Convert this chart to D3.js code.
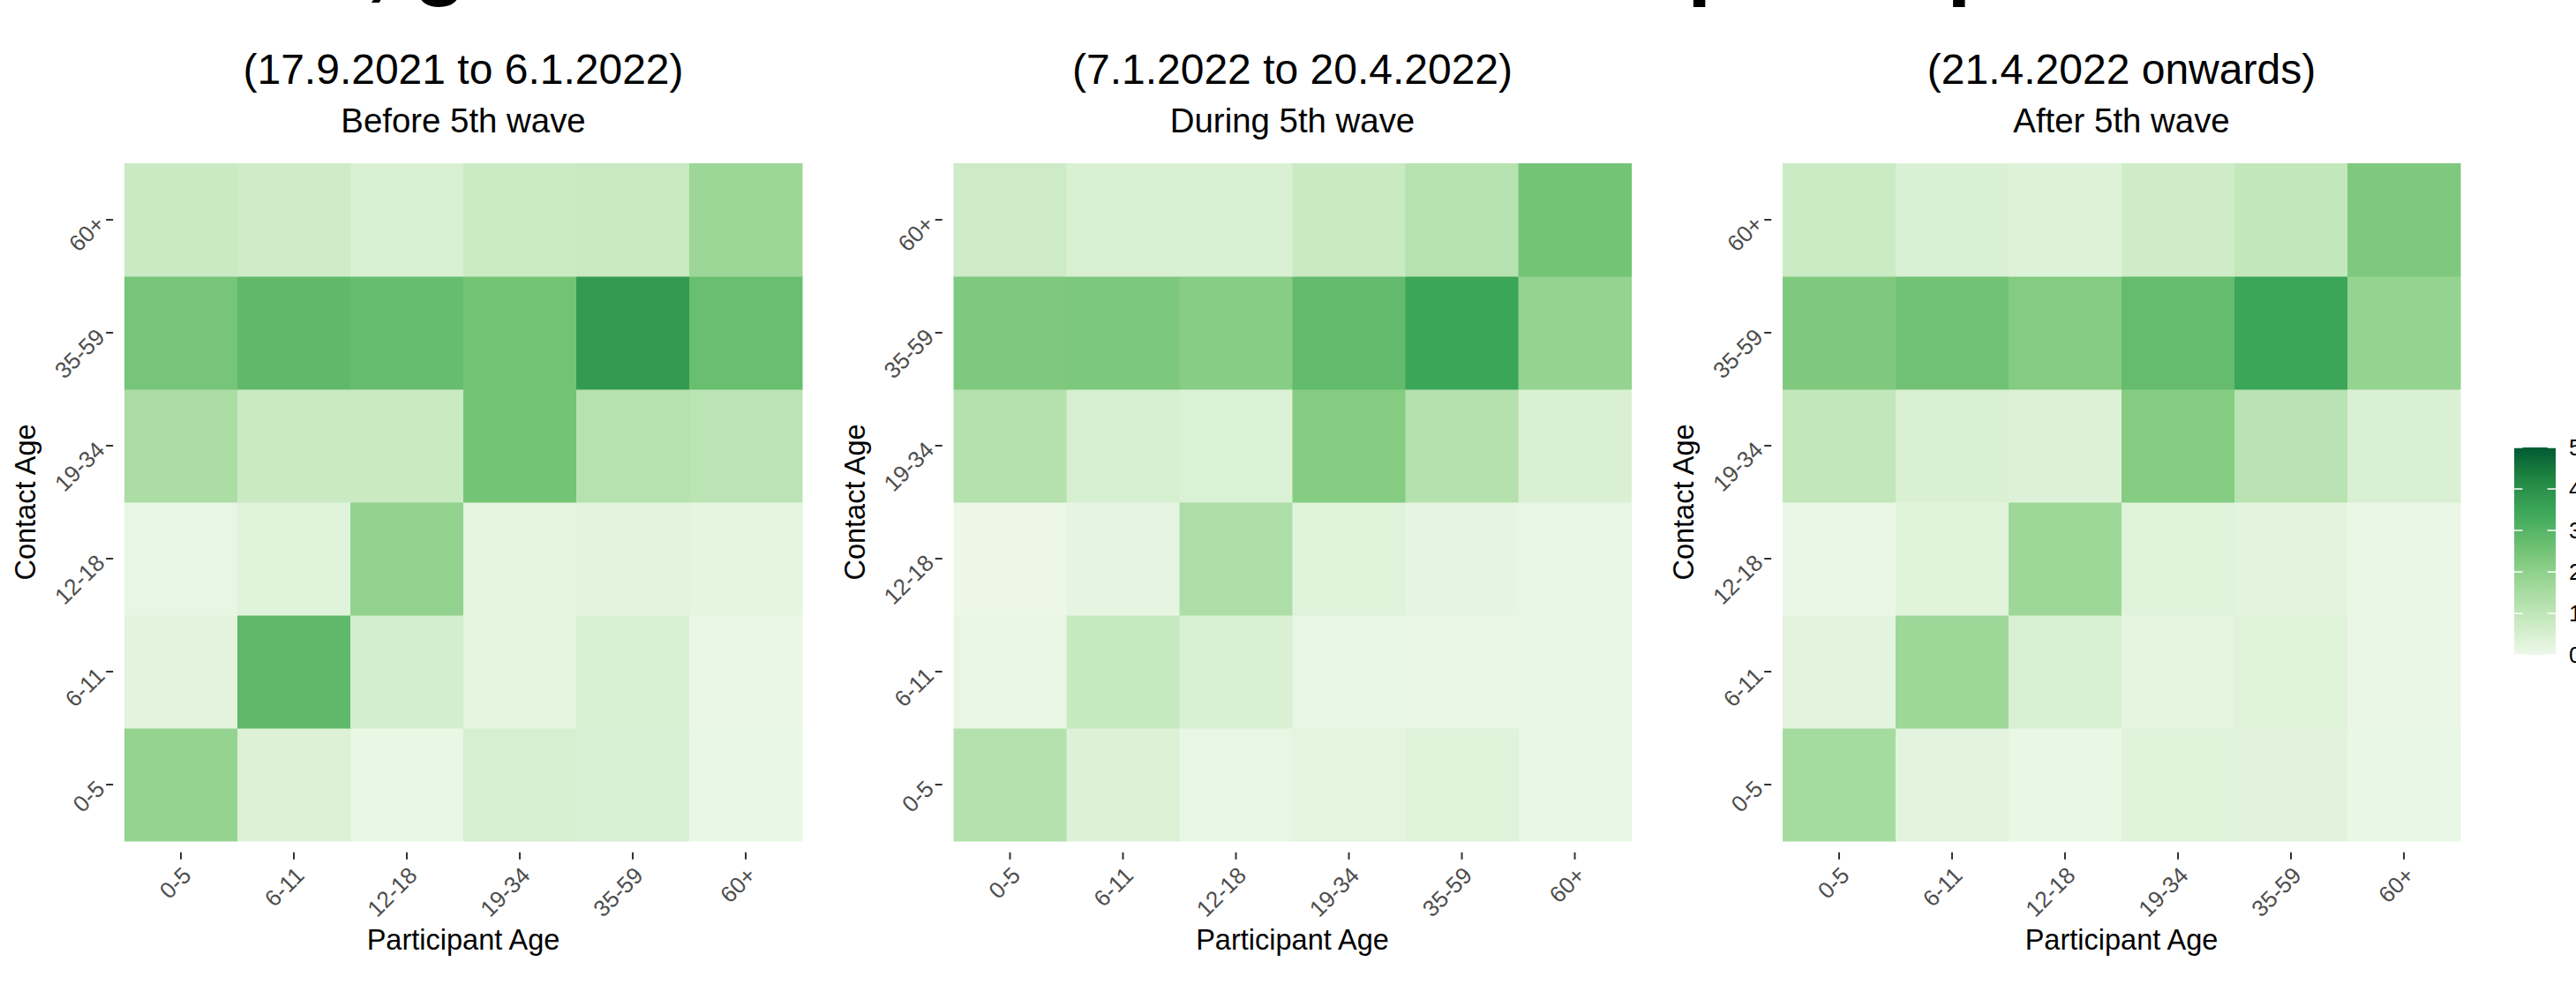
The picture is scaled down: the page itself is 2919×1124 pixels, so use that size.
<!DOCTYPE html>
<html>
<head>
<meta charset="utf-8">
<script src="https://cdn.jsdelivr.net/npm/d3@7"></script>
<style>
  body { margin: 0; background: #fff; }
  text { font-family: "Liberation Sans", Arial, Helvetica, sans-serif; }
</style>
</head>
<body>
<svg id="chart" width="2919" height="1124"></svg>
<script>
// ---- data -------------------------------------------------------------
const ageGroups = ["0-5", "6-11", "12-18", "19-34", "35-59", "60+"];

const mainTitle = "Overall, general contact matrix of each participant";
const periodTitles = ["(17.9.2021 to 6.1.2022)", "(7.1.2022 to 20.4.2022)", "(21.4.2022 onwards)"];
const periodSubtitles = ["Before 5th wave", "During 5th wave", "After 5th wave"];

// mean daily contacts; rows = contact age (0-5 ... 60+), columns = participant age (0-5 ... 60+)
const beforeWave = [
  [1.90, 0.38, 0.08, 0.52, 0.42, 0.08],
  [0.25, 2.85, 0.58, 0.18, 0.45, 0.07],
  [0.10, 0.30, 1.95, 0.18, 0.25, 0.18],
  [1.45, 0.78, 0.78, 2.50, 1.20, 1.10],
  [2.45, 2.85, 2.73, 2.52, 3.75, 2.70],
  [0.80, 0.65, 0.45, 0.75, 0.82, 1.75]
];
const duringWave = [
  [1.25, 0.38, 0.10, 0.20, 0.30, 0.10],
  [0.12, 0.85, 0.45, 0.10, 0.12, 0.08],
  [0.03, 0.15, 1.40, 0.30, 0.15, 0.10],
  [1.25, 0.50, 0.40, 2.20, 1.25, 0.45],
  [2.30, 2.35, 2.15, 2.80, 3.50, 1.90],
  [0.70, 0.45, 0.45, 0.78, 1.20, 2.50]
];
const afterWave = [
  [1.55, 0.22, 0.08, 0.30, 0.26, 0.08],
  [0.22, 1.72, 0.45, 0.18, 0.30, 0.07],
  [0.07, 0.28, 1.72, 0.30, 0.22, 0.07],
  [0.95, 0.45, 0.38, 2.20, 1.15, 0.42],
  [2.30, 2.55, 2.20, 2.75, 3.50, 1.90],
  [0.75, 0.42, 0.32, 0.68, 0.95, 2.30]
];
const legendBreaks = [0, 1, 2, 3, 4, 5];

// ---- setup ------------------------------------------------------------
const W = 2919, H = 1124;
const svg = d3.select("#chart");
svg.append("rect").attr("width", W).attr("height", H).attr("fill", "#fff");

const greens = ["#edf8e9", "#c7e9c0", "#a1d99b", "#74c476", "#41ab5d", "#238b45", "#005a32"];
const color = d3.scaleLinear()
  .domain(d3.range(greens.length).map(i => i * 5 / (greens.length - 1)))
  .range(greens)
  .interpolate(d3.interpolateLab)
  .clamp(true);

// main heading (sits mostly above the canvas)
svg.append("text")
  .attr("x", 82).attr("y", -12)
  .attr("font-size", 98).attr("font-weight", "bold").attr("fill", "#000")
  .text(mainTitle);

const matrices = [beforeWave, duringWave, afterWave];
const tileSpan = 768;      // width/height of the tile block
const panelTop = 185;
const panelStep = 939.5;
const firstLeft = 141;
const pad = tileSpan / ageGroups.length * 0.1;   // discrete-scale expansion gap
const tickLen = 8, tickPad = 6.5;

matrices.forEach((m, i) => {
  const left = firstLeft + i * panelStep;
  const x = d3.scaleBand().domain(ageGroups).range([left, left + tileSpan]);
  const y = d3.scaleBand().domain(ageGroups).range([panelTop + tileSpan, panelTop]);
  const g = svg.append("g");

  const cells = [];
  m.forEach((row, r) => row.forEach((v, c) => cells.push({ contact: ageGroups[r], participant: ageGroups[c], v })));

  g.selectAll("rect.cell").data(cells).join("rect")
    .attr("class", "cell")
    .attr("x", d => x(d.participant))
    .attr("y", d => y(d.contact))
    .attr("width", x.bandwidth() + 0.5)
    .attr("height", y.bandwidth() + 0.5)
    .attr("fill", d => color(d.v));

  // x axis
  const bottom = panelTop + tileSpan + pad;
  const xa = g.append("g").attr("transform", `translate(0,${bottom})`)
    .call(d3.axisBottom(x).tickSize(tickLen).tickPadding(tickPad));
  xa.select(".domain").remove();
  xa.selectAll(".tick line").attr("stroke", "#333").attr("stroke-width", 2);
  xa.selectAll(".tick text")
    .attr("y", null).attr("x", null).attr("dy", "0.72em")
    .attr("transform", `translate(0,${tickLen + tickPad}) rotate(-45)`)
    .attr("text-anchor", "end")
    .attr("font-size", 26).attr("fill", "#4d4d4d").attr("font-family", null);

  // y axis
  const ya = g.append("g").attr("transform", `translate(${left - pad},0)`)
    .call(d3.axisLeft(y).tickSize(tickLen).tickPadding(tickPad));
  ya.select(".domain").remove();
  ya.selectAll(".tick line").attr("stroke", "#333").attr("stroke-width", 2);
  ya.selectAll(".tick text")
    .attr("y", null).attr("x", null).attr("dy", "0.35em")
    .attr("transform", `translate(${-(tickLen + tickPad)},0) rotate(-45)`)
    .attr("text-anchor", "end")
    .attr("font-size", 26).attr("fill", "#4d4d4d").attr("font-family", null);

  // axis titles
  g.append("text")
    .attr("x", left + tileSpan / 2).attr("y", 1076)
    .attr("text-anchor", "middle").attr("font-size", 32.5).attr("fill", "#000")
    .text("Participant Age");
  g.append("text")
    .attr("transform", `translate(${left - 101},${panelTop + tileSpan / 2}) rotate(-90)`)
    .attr("text-anchor", "middle").attr("font-size", 32.5).attr("fill", "#000")
    .text("Contact Age");

  // panel headings
  g.append("text")
    .attr("x", left + tileSpan / 2).attr("y", 95)
    .attr("text-anchor", "middle").attr("font-size", 48).attr("fill", "#000")
    .text(periodTitles[i]);
  g.append("text")
    .attr("x", left + tileSpan / 2).attr("y", 150)
    .attr("text-anchor", "middle").attr("font-size", 38.4).attr("fill", "#000")
    .text(periodSubtitles[i]);
});

// ---- colour bar -------------------------------------------------------
const barX = 2849, barW = 47, barTop = 507, barBottom = 742;
const ly = d3.scaleLinear().domain([0, 5]).range([barBottom, barTop]);
const grad = svg.append("defs").append("linearGradient")
  .attr("id", "fillGrad").attr("x1", 0).attr("y1", 1).attr("x2", 0).attr("y2", 0);
d3.range(0, 1.0001, 0.05).forEach(t => {
  grad.append("stop").attr("offset", t).attr("stop-color", color(t * 5));
});
svg.append("rect")
  .attr("x", barX).attr("y", barTop).attr("width", barW).attr("height", barBottom - barTop)
  .attr("fill", "url(#fillGrad)");
const tl = barW / 5;
svg.append("g").selectAll("line").data(legendBreaks.flatMap(b => [[b, barX, barX + tl], [b, barX + barW - tl, barX + barW]]))
  .join("line")
  .attr("x1", d => d[1]).attr("x2", d => d[2])
  .attr("y1", d => ly(d[0])).attr("y2", d => ly(d[0]))
  .attr("stroke", "#fff").attr("stroke-width", 1.5);
const la = svg.append("g").attr("transform", `translate(${barX + barW},0)`)
  .call(d3.axisRight(ly).tickValues(legendBreaks).tickSize(0).tickPadding(15).tickFormat(d3.format("d")));
la.select(".domain").remove();
la.selectAll(".tick text").attr("font-size", 26).attr("fill", "#000").attr("font-family", null);
</script>
</body>
</html>
